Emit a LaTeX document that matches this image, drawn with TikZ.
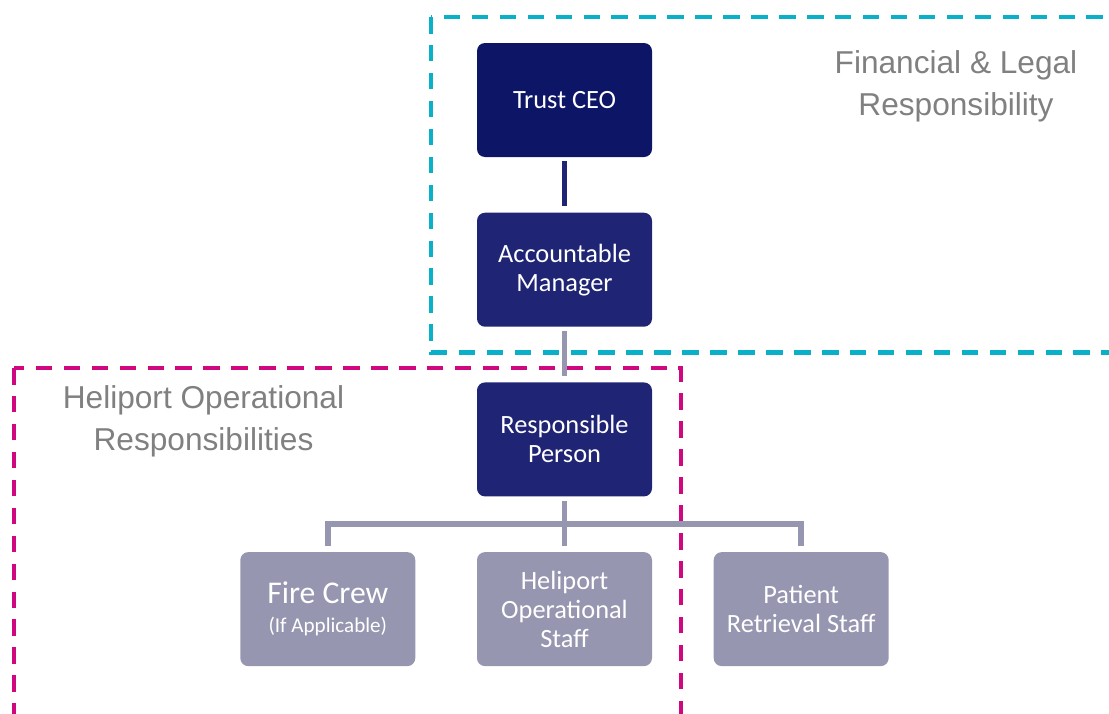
\documentclass[tikz,border=0pt]{standalone}
\usepackage{xcolor}
\usepackage{fontspec}
\usepackage{tikz}
\usetikzlibrary{positioning}
\newfontfamily\boxfont{Carlito}
\newfontfamily\areafont{Liberation Sans}
\definecolor{darknavy}{RGB}{12,21,102}
\definecolor{navy}{RGB}{31,37,116}
\definecolor{staffgray}{RGB}{150,150,176}
\definecolor{areacyan}{RGB}{10,176,200}
\definecolor{areamagenta}{RGB}{208,8,127}
\definecolor{labelgray}{RGB}{128,128,128}

\tikzset{
  orgbox/.style={rectangle, rounded corners=0.16cm, minimum width=3.5cm, minimum height=2.28cm, align=center, text=white, font=\boxfont\fontsize{15}{16.5}\selectfont},
  link/.style={line width=3.4pt, staffgray},
  area/.style={line width=2.3pt, dash pattern=on 9.4pt off 6.5pt},
  arealabel/.style={align=center, text=labelgray, font=\areafont\fontsize{18}{24}\selectfont}
}

\begin{document}
\begin{tikzpicture}[node distance=1.1cm]
\useasboundingbox (0,0) rectangle (22.18,-14.26);
\clip (0,0) rectangle (22.18,-14.26);

% areas of responsibility
\draw[area, areacyan] (8.62,-0.34) rectangle (22.6,-7.05);
\draw[area, areamagenta] (0.28,-7.36) rectangle (13.62,-14.8);
\node (financial) [arealabel] at (19.12,-1.72) {Financial \& Legal\\Responsibility};
\node (operational) [arealabel] at (4.07,-8.42) {Heliport Operational\\Responsibilities};

% chain of command
\node (ceo) [orgbox, fill=darknavy] at (11.29,-2.0) {Trust CEO};
\node (manager) [orgbox, fill=navy, below=of ceo] {Accountable\\Manager};
\node (person) [orgbox, fill=navy, below=of manager] {Responsible\\Person};

\node (heliport) [orgbox, fill=staffgray, below=of person] {Heliport\\Operational\\Staff};
\node (fire) [orgbox, fill=staffgray, left=1.22cm of heliport] {{\fontsize{18}{20}\selectfont Fire Crew}\\{\fontsize{12}{14}\selectfont (If Applicable)}};
\node (patient) [orgbox, fill=staffgray, right=1.22cm of heliport] {Patient\\Retrieval Staff};

\draw[link, navy, shorten <=0.08cm, shorten >=0.12cm] (ceo) -- (manager);
\draw[link, shorten <=0.08cm, shorten >=0.12cm] (manager) -- (person);
\coordinate (bar) at ([yshift=-0.54cm]person.south);
\draw[link] ([yshift=-0.08cm]person.south) -- ([yshift=0.12cm]heliport.north);
\draw[link] ([yshift=0.12cm]fire.north) |- (bar) -| ([yshift=0.12cm]patient.north);
\end{tikzpicture}
\end{document}
